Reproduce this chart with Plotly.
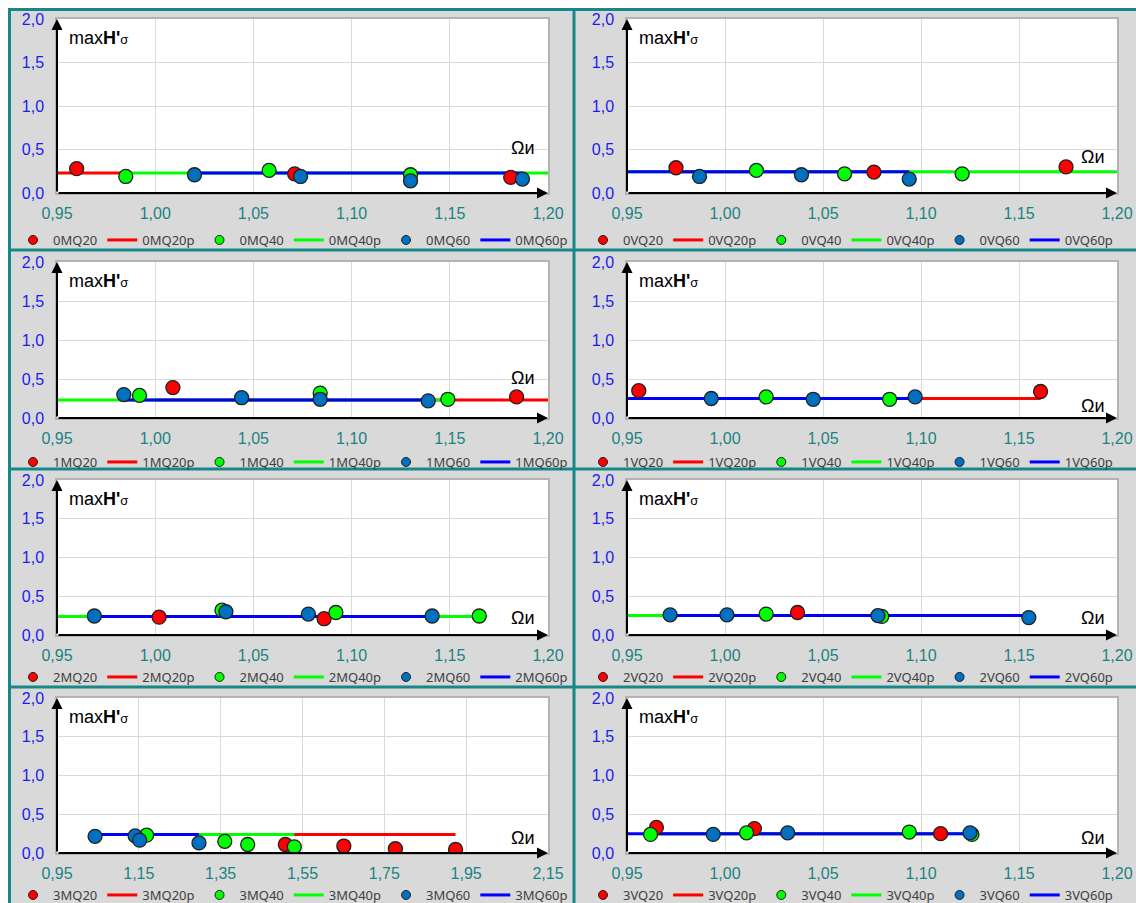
import plotly.graph_objects as go

# ---- data (x = Omega, y = maxH'sigma) ----
# panel 0MQ
m0_x20 = [0.960, 1.071, 1.181]
m0_y20 = [0.28, 0.22, 0.18]
m0_x40 = [0.985, 1.058, 1.130]
m0_y40 = [0.19, 0.26, 0.21]
m0_x60 = [1.020, 1.074, 1.130, 1.187]
m0_y60 = [0.21, 0.19, 0.14, 0.16]
m0_p20 = [0.95, 0.985]
m0_p40 = [0.985, 1.20]
m0_p60 = [1.020, 1.187]
m0_lvl = 0.23

# panel 0VQ
v0_x20 = [0.975, 1.076, 1.174]
v0_y20 = [0.29, 0.24, 0.30]
v0_x40 = [1.016, 1.061, 1.121]
v0_y40 = [0.26, 0.22, 0.22]
v0_x60 = [0.987, 1.039, 1.094]
v0_y60 = [0.19, 0.21, 0.16]
v0_p20 = [0.975, 1.076]
v0_p40 = [0.95, 1.20]
v0_p60 = [0.95, 1.094]
v0_lvl = 0.245

# panel 1MQ
m1_x20 = [1.009, 1.184]
m1_y20 = [0.39, 0.27]
m1_x40 = [0.992, 1.084, 1.149]
m1_y40 = [0.29, 0.32, 0.24]
m1_x60 = [0.984, 1.044, 1.084, 1.139]
m1_y60 = [0.30, 0.26, 0.24, 0.22]
m1_p20 = [1.00, 1.20]
m1_p40 = [0.95, 1.149]
m1_p60 = [0.984, 1.139]
m1_lvl = 0.23

# panel 1VQ
v1_x20 = [0.956, 1.161]
v1_y20 = [0.35, 0.34]
v1_x40 = [1.021, 1.084]
v1_y40 = [0.27, 0.24]
v1_x60 = [0.993, 1.045, 1.097]
v1_y60 = [0.25, 0.24, 0.27]
v1_p20 = [0.956, 1.161]
v1_p40 = [0.95, 1.084]
v1_p60 = [0.95, 1.097]
v1_lvl = 0.25

# panel 2MQ
m2_x20 = [1.002, 1.086]
m2_y20 = [0.23, 0.21]
m2_x40 = [1.034, 1.092, 1.165]
m2_y40 = [0.32, 0.29, 0.245]
m2_x60 = [0.969, 1.036, 1.078, 1.141]
m2_y60 = [0.245, 0.30, 0.27, 0.245]
m2_p20 = [1.002, 1.086]
m2_p40 = [0.95, 1.165]
m2_p60 = [0.969, 1.141]
m2_lvl = 0.24

# panel 2VQ
v2_x20 = [1.037]
v2_y20 = [0.29]
v2_x40 = [1.021, 1.080]
v2_y40 = [0.27, 0.24]
v2_x60 = [0.972, 1.001, 1.078, 1.155]
v2_y60 = [0.26, 0.26, 0.25, 0.225]
v2_p20 = [1.00, 1.08]
v2_p40 = [0.95, 1.08]
v2_p60 = [0.972, 1.155]
v2_lvl = 0.25

# panel 3MQ
m3_x20 = [1.508, 1.651, 1.777, 1.924]
m3_y20 = [0.11, 0.09, 0.055, 0.045]
m3_x40 = [1.169, 1.360, 1.416, 1.530]
m3_y40 = [0.23, 0.15, 0.11, 0.08]
m3_x60 = [1.043, 1.141, 1.152, 1.297]
m3_y60 = [0.215, 0.22, 0.165, 0.13]
m3_p20 = [1.508, 1.924]
m3_p40 = [1.169, 1.530]
m3_p60 = [1.043, 1.297]
m3_lvl = 0.24

# panel 3VQ
v3_x20 = [0.965, 1.015, 1.110]
v3_y20 = [0.33, 0.315, 0.25]
v3_x40 = [0.962, 1.011, 1.094, 1.126]
v3_y40 = [0.24, 0.26, 0.27, 0.24]
v3_x60 = [0.994, 1.032, 1.125]
v3_y60 = [0.24, 0.26, 0.26]
v3_p20 = [0.965, 1.110]
v3_p40 = [0.962, 1.126]
v3_p60 = [0.95, 1.125]
v3_lvl = 0.25

panel_names = ["0MQ", "0VQ", "1MQ", "1VQ", "2MQ", "2VQ", "3MQ", "3VQ"]
panel_data = [
    (m0_x20, m0_y20, m0_x40, m0_y40, m0_x60, m0_y60, m0_p20, m0_p40, m0_p60, m0_lvl),
    (v0_x20, v0_y20, v0_x40, v0_y40, v0_x60, v0_y60, v0_p20, v0_p40, v0_p60, v0_lvl),
    (m1_x20, m1_y20, m1_x40, m1_y40, m1_x60, m1_y60, m1_p20, m1_p40, m1_p60, m1_lvl),
    (v1_x20, v1_y20, v1_x40, v1_y40, v1_x60, v1_y60, v1_p20, v1_p40, v1_p60, v1_lvl),
    (m2_x20, m2_y20, m2_x40, m2_y40, m2_x60, m2_y60, m2_p20, m2_p40, m2_p60, m2_lvl),
    (v2_x20, v2_y20, v2_x40, v2_y40, v2_x60, v2_y60, v2_p20, v2_p40, v2_p60, v2_lvl),
    (m3_x20, m3_y20, m3_x40, m3_y40, m3_x60, m3_y60, m3_p20, m3_p40, m3_p60, m3_lvl),
    (v3_x20, v3_y20, v3_x40, v3_y40, v3_x60, v3_y60, v3_p20, v3_p40, v3_p60, v3_lvl),
]

# x axis settings: [start, end, step]
x_axis_std = [0.95, 1.20, 0.05]
x_axis_3mq = [0.95, 2.15, 0.20]
y_axis_all = [0.0, 2.0, 0.5]

# Omega label height (data units) per panel
omega_y = [0.52, 0.41, 0.51, 0.16, 0.22, 0.22, 0.20, 0.20]

# ---- layout geometry (window pixels; the page margin is removed below) ----
W, H = 1136, 903
col_px = [(57, 548), (627, 1117)]
row_px = [(19, 193), (262, 418), (480, 635), (698, 853)]
legend_ypx = [240, 462, 677, 895]
legend_xpx = [13, 583]

marker_cols = ["#FF0000", "#00FF00", "#0070C0"]
line_cols = ["#FF0000", "#00FF00", "#0000FF"]
teal = "#178787"

fig = go.Figure()
layout = {}
annotations = []

for i, (name, d) in enumerate(zip(panel_names, panel_data)):
    n = i + 1
    row, col = divmod(i, 2)
    xa = "x" if n == 1 else f"x{n}"
    ya = "y" if n == 1 else f"y{n}"
    lg = "legend" if n == 1 else f"legend{n}"
    xs = [d[0], d[2], d[4]]
    ys = [d[1], d[3], d[5]]
    ps = [d[6], d[7], d[8]]
    lvl = d[9]
    labels = ["20", "40", "60"]

    # trend lines first, so the markers sit on top
    for k in range(3):
        fig.add_trace(go.Scatter(
            x=ps[k], y=[lvl, lvl], mode="lines", xaxis=xa, yaxis=ya,
            line=dict(color=line_cols[k], width=3),
            name=f"{name}{labels[k]}p", legend=lg, legendrank=2 * k + 2,
            hoverinfo="skip"))
    for k in range(3):
        fig.add_trace(go.Scatter(
            x=xs[k], y=ys[k], mode="markers", xaxis=xa, yaxis=ya,
            marker=dict(color=marker_cols[k], size=14,
                        line=dict(color="#202020", width=1.3)),
            showlegend=False, name=f"{name}{labels[k]}"))
        # small legend-only marker
        fig.add_trace(go.Scatter(
            x=[None], y=[None], mode="markers", xaxis=xa, yaxis=ya,
            marker=dict(color=marker_cols[k], size=9,
                        line=dict(color="#202020", width=1)),
            name=f"{name}{labels[k]}", legend=lg, legendrank=2 * k + 1))

    xr = x_axis_3mq if name == "3MQ" else x_axis_std
    x0, x1 = col_px[col]
    y0, y1 = row_px[row]
    key = "" if n == 1 else str(n)
    layout["xaxis" + key] = dict(
        domain=[x0 / W, x1 / W], range=[xr[0], xr[1]], anchor=ya,
        tick0=xr[0], dtick=xr[2], tickformat=".2f",
        showgrid=True, gridcolor="#d9d9d9", gridwidth=1, zeroline=False,
        showline=True, linecolor="#b3b3b3", linewidth=1.5, mirror=True,
        ticks="outside", ticklen=5, tickcolor="rgba(0,0,0,0)",
        tickfont=dict(family="Liberation Sans, Arial", size=16, color="#1a8383"),
        fixedrange=True)
    layout["yaxis" + key] = dict(
        domain=[1 - y1 / H, 1 - y0 / H], range=[y_axis_all[0], y_axis_all[1]],
        anchor=xa, tick0=0, dtick=y_axis_all[2], tickformat=".1f",
        showgrid=True, gridcolor="#d9d9d9", gridwidth=1, zeroline=False,
        showline=True, linecolor="#b3b3b3", linewidth=1.5, mirror=True,
        ticks="outside", ticklen=8, tickcolor="rgba(0,0,0,0)",
        tickfont=dict(family="Liberation Sans, Arial", size=16, color="#1c1cf0"),
        fixedrange=True)
    layout[lg] = dict(
        orientation="h", x=legend_xpx[col] / W, y=1 - legend_ypx[row] / H,
        xanchor="left", yanchor="middle", bgcolor="rgba(0,0,0,0)",
        font=dict(family="Noto Sans", size=13, color="#404040"),
        itemwidth=30, traceorder="normal")

    # axis arrows
    annotations.append(dict(
        x=xr[0], y=2.0, ax=xr[0], ay=0, xref=xa, yref=ya, axref=xa, ayref=ya,
        showarrow=True, arrowhead=2, arrowsize=1.1, arrowwidth=2,
        arrowcolor="black", text=""))
    annotations.append(dict(
        x=xr[1], y=0, ax=xr[0], ay=0, xref=xa, yref=ya, axref=xa, ayref=ya,
        showarrow=True, arrowhead=2, arrowsize=1.1, arrowwidth=2,
        arrowcolor="black", text=""))
    # axis captions
    annotations.append(dict(
        x=0, y=1, xref=f"{xa} domain", yref=f"{ya} domain",
        xshift=10, yshift=-19, xanchor="left", yanchor="middle",
        text="max<b>H'</b><span style='font-size:13px'>σ</span>",
        showarrow=False,
        font=dict(family="Liberation Sans, Arial", size=18, color="black")))
    annotations.append(dict(
        x=0.95, y=omega_y[i], xref=f"{xa} domain", yref=ya,
        xanchor="center", yanchor="middle", text="Ωи", showarrow=False,
        font=dict(family="Liberation Sans, Arial", size=18, color="black")))

# white strip on the top and left, then the teal frame lines
shapes = [
    dict(type="rect", xref="paper", yref="paper", x0=0, x1=8 / W, y0=0, y1=1,
         fillcolor="white", line_width=0),
    dict(type="rect", xref="paper", yref="paper", x0=0, x1=1, y0=1 - 8 / H,
         y1=1, fillcolor="white", line_width=0),
]
for px in [9.5, 574]:
    shapes.append(dict(type="line", xref="paper", yref="paper",
                       x0=px / W, x1=px / W, y0=0, y1=1 - 8 / H,
                       line=dict(color=teal, width=3)))
for py in [9.5, 250, 469, 687]:
    shapes.append(dict(type="line", xref="paper", yref="paper",
                       x0=8 / W, x1=1, y0=1 - py / H, y1=1 - py / H,
                       line=dict(color=teal, width=3)))

fig.update_layout(
    width=W, height=H, margin=dict(l=0, r=0, t=0, b=0, autoexpand=False),
    paper_bgcolor="#d9d9d9", plot_bgcolor="white", separators=", ",
    annotations=annotations, shapes=shapes, hovermode=False, **layout)

# the figure fills the whole window, so drop the page margin and scrollbars
fig.write_html("out.html", config={"displayModeBar": False},
               post_script="document.body.style.margin='0';"
                           "document.documentElement.style.overflow='hidden';"
                           "document.body.style.overflow='hidden';")
